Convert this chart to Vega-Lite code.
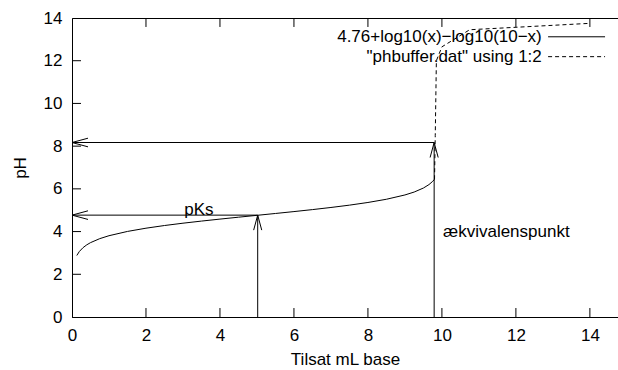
{
  "$schema": "https://vega.github.io/schema/vega-lite/v6.json",
  "width": 546,
  "height": 299,
  "autosize": {"type": "none"},
  "padding": {"left": 72, "top": 18, "right": 0, "bottom": 53},
  "background": "white",
  "config": {
    "view": {"stroke": "black", "strokeWidth": 1},
    "font": "Liberation Sans",
    "axis": {
      "domainColor": "black",
      "labelColor": "black",
      "titleColor": "black",
      "labelFont": "Liberation Sans",
      "titleFont": "Liberation Sans",
      "labelFontSize": 17,
      "titleFontSize": 17,
      "titleFontWeight": "normal",
      "labelFlush": false,
      "grid": false
    }
  },
  "datasets": {
    "curve": [
      {"x": 0.13, "y": 2.88}, {"x": 0.2, "y": 3.07}, {"x": 0.3, "y": 3.25}, {"x": 0.4, "y": 3.38},
      {"x": 0.5, "y": 3.481}, {"x": 0.75, "y": 3.669}, {"x": 1, "y": 3.806}, {"x": 1.5, "y": 4.007},
      {"x": 2, "y": 4.158}, {"x": 2.5, "y": 4.283}, {"x": 3, "y": 4.392}, {"x": 3.5, "y": 4.491},
      {"x": 4, "y": 4.584}, {"x": 4.5, "y": 4.673}, {"x": 5, "y": 4.76}, {"x": 5.5, "y": 4.847},
      {"x": 6, "y": 4.936}, {"x": 6.5, "y": 5.029}, {"x": 7, "y": 5.128}, {"x": 7.5, "y": 5.237},
      {"x": 8, "y": 5.362}, {"x": 8.5, "y": 5.513}, {"x": 9, "y": 5.714}, {"x": 9.25, "y": 5.851},
      {"x": 9.5, "y": 6.039}, {"x": 9.65, "y": 6.2}, {"x": 9.75, "y": 6.351}, {"x": 9.8, "y": 6.45}
    ],
    "dat": [
      {"x": 9.8, "y": 6.45}, {"x": 9.82, "y": 8.5}, {"x": 9.85, "y": 12.0},
      {"x": 10.0, "y": 12.65}, {"x": 10.75, "y": 13.45}, {"x": 14.0, "y": 13.75}
    ],
    "arrows": [
      {"x": 9.79, "y": 8.17, "x2": 0, "y2": 8.17, "dir": "left"},
      {"x": 5.02, "y": 4.77, "x2": 0, "y2": 4.77, "dir": "left"},
      {"x": 5.02, "y": 0, "x2": 5.02, "y2": 4.77, "dir": "up"},
      {"x": 9.79, "y": 0, "x2": 9.79, "y2": 8.17, "dir": "up"}
    ],
    "ticks": [
      {"x": 2, "y": 0, "x2": 2, "y2": 0.42}, {"x": 4, "y": 0, "x2": 4, "y2": 0.42},
      {"x": 6, "y": 0, "x2": 6, "y2": 0.42}, {"x": 8, "y": 0, "x2": 8, "y2": 0.42},
      {"x": 10, "y": 0, "x2": 10, "y2": 0.42}, {"x": 12, "y": 0, "x2": 12, "y2": 0.42},
      {"x": 14, "y": 0, "x2": 14, "y2": 0.42},
      {"x": 2, "y": 14, "x2": 2, "y2": 13.58}, {"x": 4, "y": 14, "x2": 4, "y2": 13.58},
      {"x": 6, "y": 14, "x2": 6, "y2": 13.58}, {"x": 8, "y": 14, "x2": 8, "y2": 13.58},
      {"x": 10, "y": 14, "x2": 10, "y2": 13.58}, {"x": 12, "y": 14, "x2": 12, "y2": 13.58},
      {"x": 14, "y": 14, "x2": 14, "y2": 13.58},
      {"x": 0, "y": 2, "x2": 0.243, "y2": 2}, {"x": 0, "y": 4, "x2": 0.243, "y2": 4},
      {"x": 0, "y": 6, "x2": 0.243, "y2": 6}, {"x": 0, "y": 8, "x2": 0.243, "y2": 8},
      {"x": 0, "y": 10, "x2": 0.243, "y2": 10}, {"x": 0, "y": 12, "x2": 0.243, "y2": 12}
    ],
    "labels": [
      {"x": 3.43, "y": 5.0, "text": "pKs", "pos": "center"},
      {"x": 10.03, "y": 4.0, "text": "ækvivalenspunkt", "pos": "left"}
    ],
    "legend": [
      {"x": 12.7, "y": 13.12, "x1": 12.87, "x2": 14.41, "text": "4.76+log10(x)−log10(10−x)", "kind": "solid"},
      {"x": 12.7, "y": 12.19, "x1": 12.87, "x2": 14.41, "text": "\"phbuffer.dat\" using 1:2", "kind": "dashed"}
    ]
  },
  "layer": [
    {
      "data": {"name": "curve"},
      "mark": {"type": "line", "color": "black", "strokeWidth": 1},
      "encoding": {
        "x": {
          "field": "x", "type": "quantitative",
          "scale": {"domain": [0, 14.76], "nice": false, "zero": false},
          "axis": {"orient": "bottom", "values": [0, 2, 4, 6, 8, 10, 12, 14], "ticks": false, "labelPadding": 10, "title": "Tilsat mL base", "titlePadding": 8}
        },
        "y": {
          "field": "y", "type": "quantitative",
          "scale": {"domain": [0, 14], "nice": false, "zero": false},
          "axis": {"orient": "left", "values": [0, 2, 4, 6, 8, 10, 12, 14], "ticks": false, "labelPadding": 10, "title": "pH", "titlePadding": 14}
        }
      }
    },
    {
      "data": {"name": "dat"},
      "mark": {"type": "line", "color": "black", "strokeWidth": 1, "strokeDash": [4, 3]},
      "encoding": {
        "x": {"field": "x", "type": "quantitative"},
        "y": {"field": "y", "type": "quantitative"}
      }
    },
    {
      "data": {"name": "ticks"},
      "mark": {"type": "rule", "color": "black", "strokeWidth": 1},
      "encoding": {
        "x": {"field": "x", "type": "quantitative"},
        "y": {"field": "y", "type": "quantitative"},
        "x2": {"field": "x2"},
        "y2": {"field": "y2"}
      }
    },
    {
      "data": {"name": "arrows"},
      "mark": {"type": "rule", "color": "black", "strokeWidth": 1},
      "encoding": {
        "x": {"field": "x", "type": "quantitative"},
        "y": {"field": "y", "type": "quantitative"},
        "x2": {"field": "x2"},
        "y2": {"field": "y2"}
      }
    },
    {
      "data": {"name": "arrows"},
      "transform": [{"filter": "datum.dir === 'left'"}],
      "mark": {"type": "point", "shape": "M1,-0.27L0,0L1,0.27", "size": 1024, "filled": false, "stroke": "black", "strokeWidth": 1, "opacity": 1},
      "encoding": {
        "x": {"field": "x2", "type": "quantitative"},
        "y": {"field": "y2", "type": "quantitative"}
      }
    },
    {
      "data": {"name": "arrows"},
      "transform": [{"filter": "datum.dir === 'up'"}],
      "mark": {"type": "point", "shape": "M-0.27,1L0,0L0.27,1", "size": 900, "filled": false, "stroke": "black", "strokeWidth": 1, "opacity": 1},
      "encoding": {
        "x": {"field": "x2", "type": "quantitative"},
        "y": {"field": "y2", "type": "quantitative"}
      }
    },
    {
      "data": {"name": "labels"},
      "transform": [{"filter": "datum.pos === 'center'"}],
      "mark": {"type": "text", "align": "center", "baseline": "middle", "fontSize": 17, "color": "black"},
      "encoding": {
        "x": {"field": "x", "type": "quantitative"},
        "y": {"field": "y", "type": "quantitative"},
        "text": {"field": "text"}
      }
    },
    {
      "data": {"name": "labels"},
      "transform": [{"filter": "datum.pos === 'left'"}],
      "mark": {"type": "text", "align": "left", "baseline": "middle", "fontSize": 17, "color": "black"},
      "encoding": {
        "x": {"field": "x", "type": "quantitative"},
        "y": {"field": "y", "type": "quantitative"},
        "text": {"field": "text"}
      }
    },
    {
      "data": {"name": "legend"},
      "mark": {"type": "text", "align": "right", "baseline": "middle", "fontSize": 17, "color": "black"},
      "encoding": {
        "x": {"field": "x", "type": "quantitative"},
        "y": {"field": "y", "type": "quantitative"},
        "text": {"field": "text"}
      }
    },
    {
      "data": {"name": "legend"},
      "transform": [{"filter": "datum.kind === 'solid'"}],
      "mark": {"type": "rule", "color": "black", "strokeWidth": 1},
      "encoding": {
        "x": {"field": "x1", "type": "quantitative"},
        "x2": {"field": "x2"},
        "y": {"field": "y", "type": "quantitative"}
      }
    },
    {
      "data": {"name": "legend"},
      "transform": [{"filter": "datum.kind === 'dashed'"}],
      "mark": {"type": "rule", "color": "black", "strokeWidth": 1, "strokeDash": [4, 3]},
      "encoding": {
        "x": {"field": "x1", "type": "quantitative"},
        "x2": {"field": "x2"},
        "y": {"field": "y", "type": "quantitative"}
      }
    }
  ]
}
